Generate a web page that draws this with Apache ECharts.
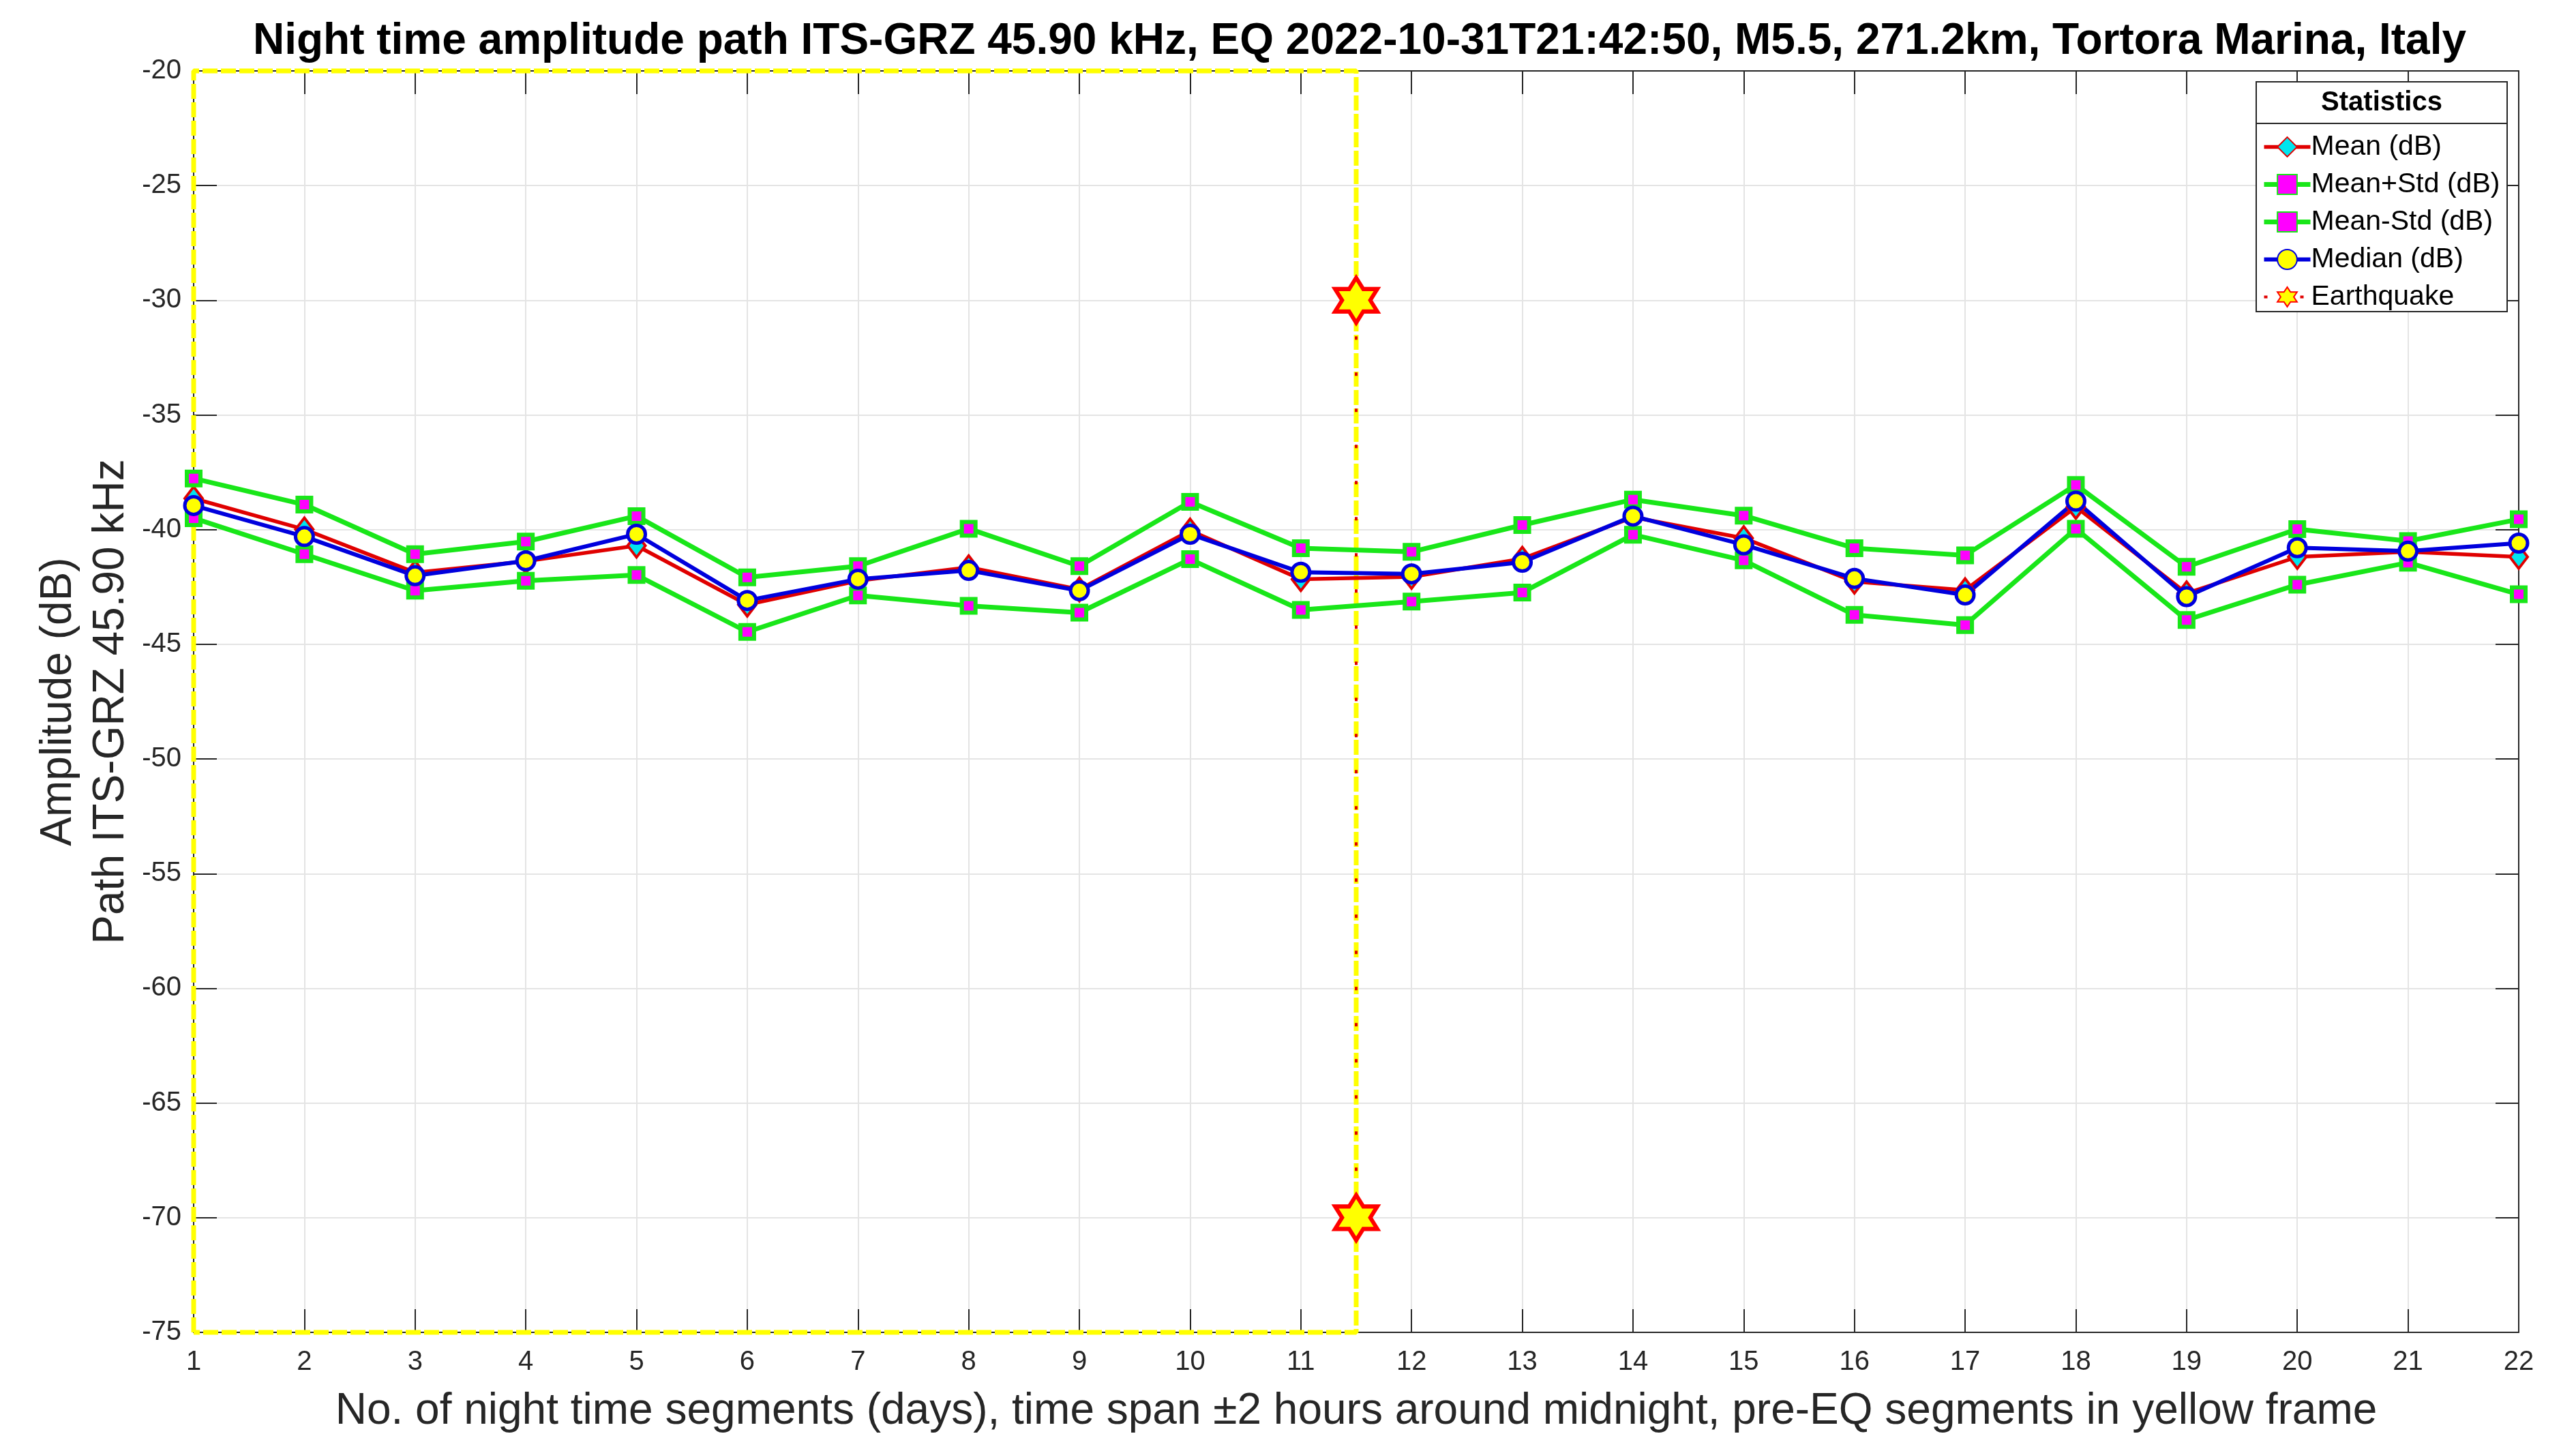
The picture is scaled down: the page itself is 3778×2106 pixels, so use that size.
<!DOCTYPE html>
<html>
<head>
<meta charset="utf-8">
<script src="https://cdn.jsdelivr.net/npm/echarts@6/dist/echarts.min.js"></script>
<style>
  html, body { margin: 0; padding: 0; background: #ffffff; }
  #chart { width: 3778px; height: 2106px; }
</style>
</head>
<body>
<div id="chart"></div>
<script>
// Night-time segments (days)
const days = [1, 2, 3, 4, 5, 6, 7, 8, 9, 10, 11, 12, 13, 14, 15, 16, 17, 18, 19, 20, 21, 22];

// Amplitude statistics per segment (dB)
const meanDb = [-38.64, -39.99, -41.87, -41.38, -40.70, -43.27, -42.23, -41.64, -42.61, -40.04, -42.16,
                -42.06, -41.27, -39.46, -40.37, -42.27, -42.64, -39.01, -42.78, -41.19, -40.97, -41.19];
const meanPlusStdDb = [-37.77, -38.91, -41.07, -40.52, -39.41, -42.08, -41.59, -39.96, -41.59, -38.79, -40.81,
                       -40.97, -39.80, -38.69, -39.39, -40.81, -41.12, -38.05, -41.62, -39.98, -40.50, -39.55];
const meanMinusStdDb = [-39.50, -41.07, -42.66, -42.23, -41.98, -44.46, -42.87, -43.32, -43.62, -41.29, -43.50,
                        -43.14, -42.74, -40.22, -41.34, -43.72, -44.16, -39.96, -43.94, -42.40, -41.44, -42.82];
const medianDb = [-38.95, -40.30, -42.01, -41.36, -40.20, -43.09, -42.16, -41.78, -42.66, -40.20, -41.86,
                  -41.93, -41.42, -39.41, -40.66, -42.13, -42.85, -38.76, -42.92, -40.79, -40.94, -40.59];

// Earthquake position on the segment axis and the marker levels
const eqDay = 11.5;
const eqMarkerLevels = [-30, -70];

// Axis limits and pre-EQ frame
const yMin = -75, yMax = -20, yStep = 5;
const xMin = 1, xMax = 22, xStep = 1;
const preEqStart = 1;

const FONT = '"Liberation Sans", Arial, Helvetica, sans-serif';
const STAR = 'path://M0,-10L2.887,-5L8.66,-5L5.774,0L8.66,5L2.887,5L0,10L-2.887,5L-8.66,5L-5.774,0L-8.66,-5L-2.887,-5Z';

const pairs = (ys) => days.map((d, i) => [d, ys[i]]);

const chart = echarts.init(document.getElementById('chart'), null, { renderer: 'canvas' });

const frameData = [
  [preEqStart, yMin], [preEqStart, yMax], [eqDay, yMax], [eqDay, yMin], [preEqStart, yMin]
];

const axisCommon = {
  axisLine: { show: true, onZero: false, lineStyle: { color: '#262626', width: 2 } },
  axisTick: { show: true, inside: true, length: 34, lineStyle: { color: '#262626', width: 2 } }
};

const option = {
  animation: false,
  backgroundColor: '#ffffff',
  title: {
    text: 'Night time amplitude path ITS-GRZ 45.90 kHz, EQ 2022-10-31T21:42:50, M5.5, 271.2km, Tortora Marina, Italy',
    left: 1989,
    top: 24,
    textAlign: 'center',
    textStyle: { fontFamily: FONT, fontSize: 64, fontWeight: 'bold', color: '#000000' }
  },
  grid: { left: 284, right: 84, top: 104, bottom: 152, containLabel: false, outerBoundsMode: 'none' },
  xAxis: [Object.assign({
    type: 'value', min: xMin, max: xMax, interval: xStep,
    name: 'No. of night time segments (days), time span \u00b12 hours around midnight, pre-EQ segments in yellow frame',
    nameLocation: 'middle', nameGap: 84, nameMoveOverlap: false,
    nameTextStyle: { fontFamily: FONT, fontSize: 64, color: '#262626' },
    axisLabel: { fontFamily: FONT, fontSize: 40, color: '#262626', margin: 24 },
    splitLine: { show: true, lineStyle: { color: '#e4e4e4', width: 2 } }
  }, axisCommon), Object.assign({
    type: 'value', min: xMin, max: xMax, interval: xStep, position: 'top',
    axisLabel: { show: false }, splitLine: { show: false }
  }, axisCommon)],
  yAxis: [Object.assign({
    type: 'value', min: yMin, max: yMax, interval: yStep,
    name: 'Amplitude (dB)\nPath ITS-GRZ 45.90 kHz',
    nameLocation: 'middle', nameGap: 82, nameMoveOverlap: false,
    nameTextStyle: { fontFamily: FONT, fontSize: 64, color: '#262626', lineHeight: 77 },
    axisLabel: { fontFamily: FONT, fontSize: 40, color: '#262626', margin: 18 },
    splitLine: { show: true, lineStyle: { color: '#e4e4e4', width: 2 } }
  }, axisCommon), Object.assign({
    type: 'value', min: yMin, max: yMax, interval: yStep, position: 'right',
    axisLabel: { show: false }, splitLine: { show: false }
  }, axisCommon)],
  legend: {
    orient: 'vertical',
    left: 3317, top: 195,
    padding: 0,
    itemWidth: 68, itemHeight: 36, itemGap: 14,
    z: 10,
    lineStyle: { width: 'inherit' },
    textStyle: { fontFamily: FONT, fontSize: 41, color: '#000000', lineHeight: 36, padding: [0, 0, 0, -4] },
    data: ['Mean (dB)', 'Mean+Std (dB)', 'Mean-Std (dB)', 'Median (dB)', 'Earthquake']
  },
  graphic: [
    { type: 'rect', z: 5, shape: { x: 3309, y: 120, width: 368, height: 337 },
      style: { fill: '#ffffff', stroke: '#262626', lineWidth: 2 } },
    { type: 'line', z: 6, shape: { x1: 3309, y1: 181, x2: 3677, y2: 181 },
      style: { stroke: '#262626', lineWidth: 2 } },
    { type: 'text', z: 6, x: 3493, y: 151,
      style: { text: 'Statistics', font: 'bold 40px ' + FONT, fill: '#000000', align: 'center', verticalAlign: 'middle' } }
  ],
  series: [
    {
      name: 'pre-EQ frame', type: 'line', data: frameData,
      symbol: 'none', clip: false, silent: true, z: 1,
      lineStyle: { color: '#ffff00', width: 7, type: [22, 5] }
    },
    {
      name: 'Mean (dB)', type: 'line', data: pairs(meanDb), z: 3,
      symbol: 'diamond', symbolSize: [26, 34],
      lineStyle: { color: '#e00000', width: 5.5 },
      itemStyle: { color: '#00e5ee', borderColor: '#e00000', borderWidth: 4 }
    },
    {
      name: 'Mean+Std (dB)', type: 'line', data: pairs(meanPlusStdDb), z: 3,
      symbol: 'rect', symbolSize: 20,
      lineStyle: { color: '#19e619', width: 7 },
      itemStyle: { color: '#ff00ff', borderColor: '#19e619', borderWidth: 6 }
    },
    {
      name: 'Mean-Std (dB)', type: 'line', data: pairs(meanMinusStdDb), z: 3,
      symbol: 'rect', symbolSize: 20,
      lineStyle: { color: '#19e619', width: 7 },
      itemStyle: { color: '#ff00ff', borderColor: '#19e619', borderWidth: 6 }
    },
    {
      name: 'Median (dB)', type: 'line', data: pairs(medianDb), z: 3,
      symbol: 'circle', symbolSize: 26,
      lineStyle: { color: '#0000dd', width: 6 },
      itemStyle: { color: '#ffff00', borderColor: '#0000dd', borderWidth: 5 }
    },
    {
      name: 'Earthquake', type: 'line', z: 4, clip: false,
      data: eqMarkerLevels.map(v => [eqDay, v]),
      symbol: STAR, symbolSize: [62, 66],
      lineStyle: { color: '#e00000', width: 4, type: [5, 48] },
      itemStyle: { color: '#ffff00', borderColor: '#ff0000', borderWidth: 6 }
    }
  ]
};

chart.setOption(option);
</script>
</body>
</html>
